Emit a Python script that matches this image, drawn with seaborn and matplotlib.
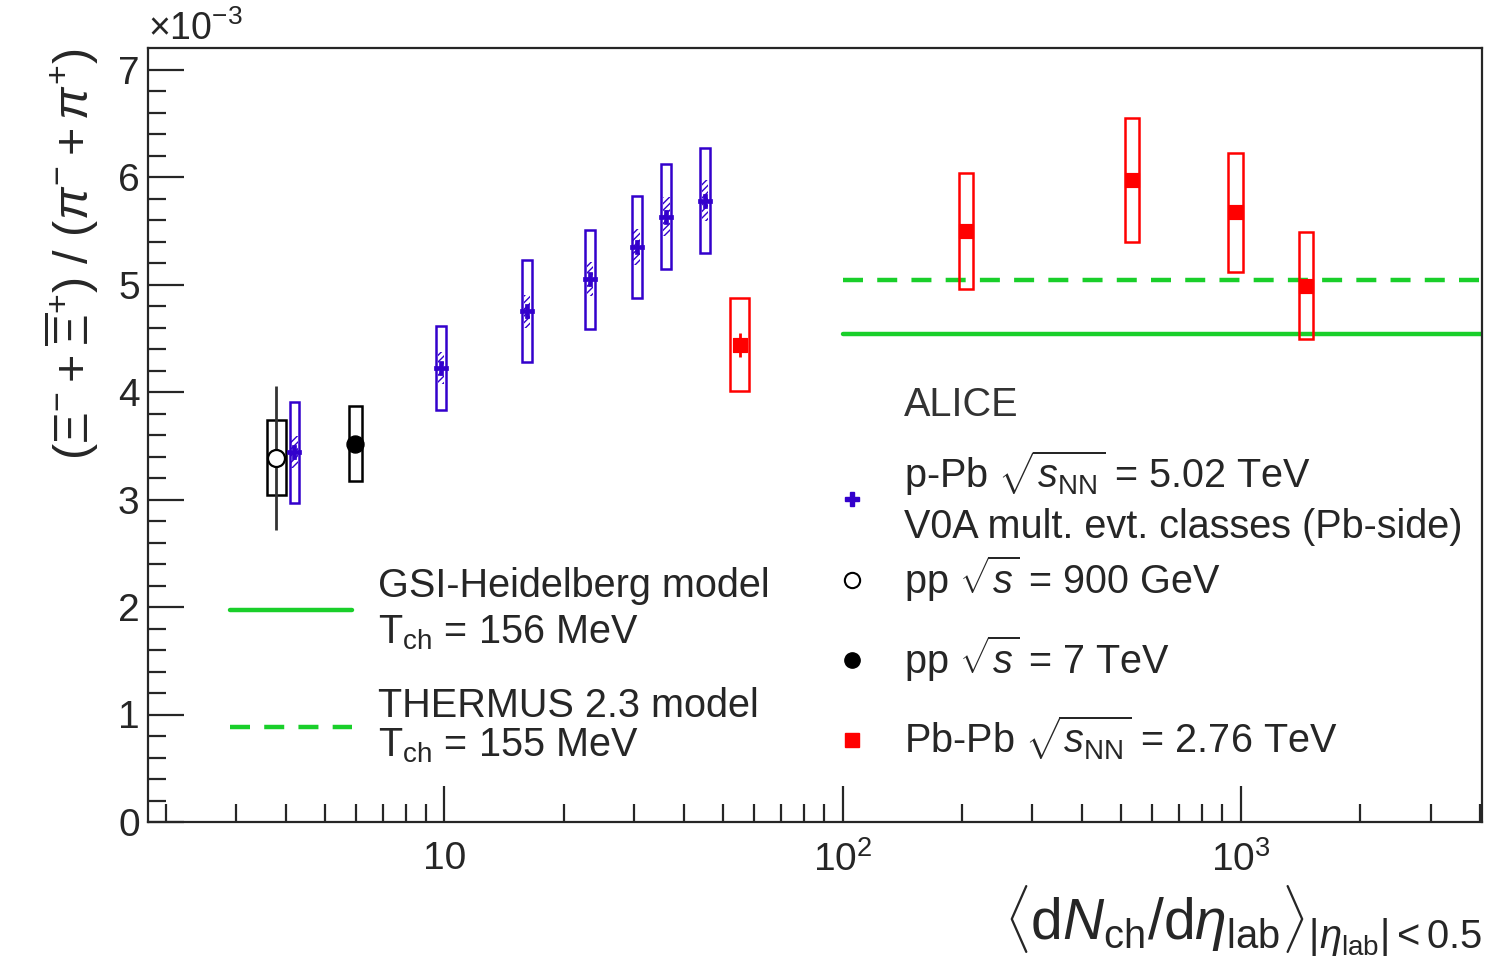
import numpy as np
import pandas as pd
import matplotlib
matplotlib.use("Agg")
import matplotlib.pyplot as plt
from matplotlib.patches import Rectangle
import seaborn as sns

# ratio values are in units of 10^-3
# p-Pb 5.02 TeV, V0A multiplicity classes
ppb_dndeta = [4.2, 9.8, 16.1, 23.2, 30.4, 36.1, 45.1]
ppb_ratio = [3.44, 4.22, 4.75, 5.05, 5.35, 5.63, 5.78]
ppb_stat = [0.06, 0.06, 0.06, 0.06, 0.06, 0.06, 0.06]
ppb_sys = [0.47, 0.39, 0.475, 0.46, 0.475, 0.49, 0.49]
ppb_sys_uncorr = [0.15, 0.15, 0.15, 0.16, 0.17, 0.18, 0.19]

# Pb-Pb 2.76 TeV
pbpb_dndeta = [55.2, 204.0, 533.0, 971.0, 1459.0]
pbpb_ratio = [4.44, 5.50, 5.97, 5.67, 4.99]
pbpb_stat = [0.11, 0.05, 0.05, 0.05, 0.05]
pbpb_sys = [0.43, 0.54, 0.575, 0.555, 0.50]

# pp 900 GeV and 7 TeV
pp900_dndeta = [3.78]
pp900_ratio = [3.39]
pp900_stat = [0.67]
pp900_sys = [0.345]
pp7_dndeta = [5.97]
pp7_ratio = [3.52]
pp7_stat = [0.04]
pp7_sys = [0.35]

# thermal model predictions
model_x = [100, 4040]
gsi_ratio = 4.54
thermus_ratio = 5.04

xtick_vals = [10, 100, 1000]
xtick_labels = ["10", "$10^{2}$", "$10^{3}$"]
ytick_vals = [0, 1, 2, 3, 4, 5, 6, 7]

blue = "#3300cc"
red = "#ff0000"
green = "#19cf2a"

sns.set_style("ticks")
plt.rcParams["font.family"] = ["Liberation Sans", "DejaVu Sans"]
plt.rcParams["mathtext.fontset"] = "custom"
plt.rcParams["mathtext.rm"] = "Liberation Sans"
plt.rcParams["mathtext.it"] = "Liberation Sans:italic"
plt.rcParams["mathtext.bf"] = "Liberation Sans:bold"
plt.rcParams["hatch.linewidth"] = 1.0

fig = plt.figure(figsize=(14.88, 9.67), dpi=100)
ax = fig.add_axes([148 / 1488, 1 - 822 / 967, 1334 / 1488, 774 / 967])


def draw_boxes(xs, ys, sys, half_dex, color, lw=1.8, hatch=None):
    for x, y, s, w in zip(xs, ys, sys, half_dex):
        x0 = x * 10 ** (-w)
        x1 = x * 10 ** w
        if hatch:
            ax.add_patch(Rectangle((x0, y - s), x1 - x0, 2 * s, fill=False,
                                   hatch=hatch, edgecolor=color, lw=0, zorder=2))
        else:
            ax.add_patch(Rectangle((x0, y - s), x1 - x0, 2 * s, fill=False,
                                   edgecolor=color, lw=lw, zorder=2))


# model lines
sns.lineplot(x=model_x, y=[thermus_ratio] * 2, ax=ax, color=green, lw=3.2,
             linestyle=(0, (4.5, 3.2)), zorder=1)
sns.lineplot(x=model_x, y=[gsi_ratio] * 2, ax=ax, color=green, lw=3.2, zorder=1)

# systematic boxes
draw_boxes(pp900_dndeta, pp900_ratio, pp900_sys, [0.024], "black")
draw_boxes(pp7_dndeta, pp7_ratio, pp7_sys, [0.016], "black")
draw_boxes(ppb_dndeta, ppb_ratio, ppb_sys, [0.0125] * 7, blue)
draw_boxes(ppb_dndeta, ppb_ratio, ppb_sys_uncorr, [0.008] * 7, blue, hatch="/////")
draw_boxes(pbpb_dndeta, pbpb_ratio, pbpb_sys, [0.024, 0.018, 0.018, 0.018, 0.018], red)

# statistical errors
ax.errorbar(pp900_dndeta, pp900_ratio, yerr=pp900_stat, fmt="none", ecolor="#333333",
            elinewidth=2, capsize=0, zorder=3)
ax.errorbar(pp7_dndeta, pp7_ratio, yerr=pp7_stat, fmt="none", ecolor="black",
            elinewidth=2, capsize=0, zorder=3)
ax.errorbar(ppb_dndeta, ppb_ratio, yerr=ppb_stat, fmt="none", ecolor=blue,
            elinewidth=2, capsize=0, zorder=3)
ax.errorbar(pbpb_dndeta, pbpb_ratio, yerr=pbpb_stat, fmt="none", ecolor=red,
            elinewidth=2, capsize=0, zorder=3)

# points
sns.scatterplot(x=pp900_dndeta, y=pp900_ratio, ax=ax, marker="o", s=150,
                facecolor="white", edgecolor="black", linewidth=1.6, zorder=4)
sns.scatterplot(x=pp7_dndeta, y=pp7_ratio, ax=ax, marker="o", s=150,
                color="black", edgecolor="black", zorder=4)
sns.scatterplot(x=ppb_dndeta, y=ppb_ratio, ax=ax, marker="P", s=110,
                color=blue, edgecolor=blue, linewidth=0.5, zorder=4)
sns.scatterplot(x=pbpb_dndeta, y=pbpb_ratio, ax=ax, marker="s", s=110,
                color=red, edgecolor=red, zorder=4)

ax.set_xscale("log")
ax.set_xlim(1.8, 4040)
ax.set_ylim(0, 7.2)
ax.set_xticks(xtick_vals, xtick_labels)
ax.set_yticks(ytick_vals, [str(v) for v in ytick_vals])
ax.set_yticks(np.arange(0, 7.2, 0.2), minor=True)
ax.tick_params(axis="both", which="major", direction="in", length=26, width=1.6,
               labelsize=28, top=False, right=False)
ax.tick_params(axis="x", which="major", pad=14)
ax.tick_params(axis="y", which="major", pad=6)
ax.tick_params(axis="both", which="minor", direction="in", length=13, width=1.6,
               top=False, right=False)
for sp in ax.spines.values():
    sp.set_linewidth(1.6)
    sp.set_visible(True)

ax.set_ylabel(r"$(\Xi^{-} + \overline{\Xi}^{+})\ /\ (\pi^{-} + \pi^{+})$",
              fontsize=35, loc="top", labelpad=12)
ax.set_xlabel(r"$\langle \mathrm{d}N_{\mathrm{ch}}/\mathrm{d}\eta_{\mathrm{lab}}\rangle_{|\eta_{\mathrm{lab}}|< 0.5}$",
              fontsize=41, loc="right", labelpad=3)
ax.text(0.0, 1.0, r"$\times$10$^{-3}$", transform=ax.transAxes, fontsize=27,
        ha="left", va="bottom")

# legend (ALICE data)
fs = 28.5
mx, tx = 0.5277, 0.5667
ax.text(tx, 0.5245, "ALICE", transform=ax.transAxes, fontsize=fs, color="#333333",
        va="baseline")
ax.plot([mx], [0.4173], transform=ax.transAxes, ls="none", marker="P", ms=10,
        color=blue, clip_on=False)
ax.text(tx, 0.4315, r"p-Pb $\sqrt{s_{\rm NN}}$ = 5.02 TeV", transform=ax.transAxes,
        fontsize=fs, va="baseline")
ax.text(tx, 0.3669, "V0A mult. evt. classes (Pb-side)", transform=ax.transAxes,
        fontsize=fs, va="baseline")
ax.plot([mx], [0.3127], transform=ax.transAxes, ls="none", marker="o", ms=11,
        mfc="white", mec="black", mew=1.5, clip_on=False)
ax.text(tx, 0.2946, r"pp $\sqrt{s}$ = 900 GeV", transform=ax.transAxes,
        fontsize=fs, va="baseline")
ax.plot([mx], [0.2093], transform=ax.transAxes, ls="none", marker="o", ms=11,
        color="black", clip_on=False)
ax.text(tx, 0.1912, r"pp $\sqrt{s}$ = 7 TeV", transform=ax.transAxes,
        fontsize=fs, va="baseline")
ax.plot([mx], [0.1059], transform=ax.transAxes, ls="none", marker="s", ms=10,
        color=red, clip_on=False)
ax.text(tx, 0.0891, r"Pb-Pb $\sqrt{s_{\rm NN}}$ = 2.76 TeV", transform=ax.transAxes,
        fontsize=fs, va="baseline")

# legend (models)
lx0, lx1, ltx = 0.0615, 0.1529, 0.1724
ax.plot([lx0, lx1], [0.2739] * 2, transform=ax.transAxes, color=green, lw=3.2)
ax.text(ltx, 0.2907, "GSI-Heidelberg model", transform=ax.transAxes, fontsize=fs,
        va="baseline")
ax.text(ltx, 0.2313, r"T$_{\rm ch}$ = 156 MeV", transform=ax.transAxes, fontsize=fs,
        va="baseline")
ax.plot([lx0, lx1], [0.1227] * 2, transform=ax.transAxes, color=green, lw=3.2,
        linestyle=(0, (4.5, 3.2)))
ax.text(ltx, 0.1357, "THERMUS 2.3 model", transform=ax.transAxes, fontsize=fs,
        va="baseline")
ax.text(ltx, 0.0853, r"T$_{\rm ch}$ = 155 MeV", transform=ax.transAxes, fontsize=fs,
        va="baseline")

fig.savefig("out.png", dpi=100)
